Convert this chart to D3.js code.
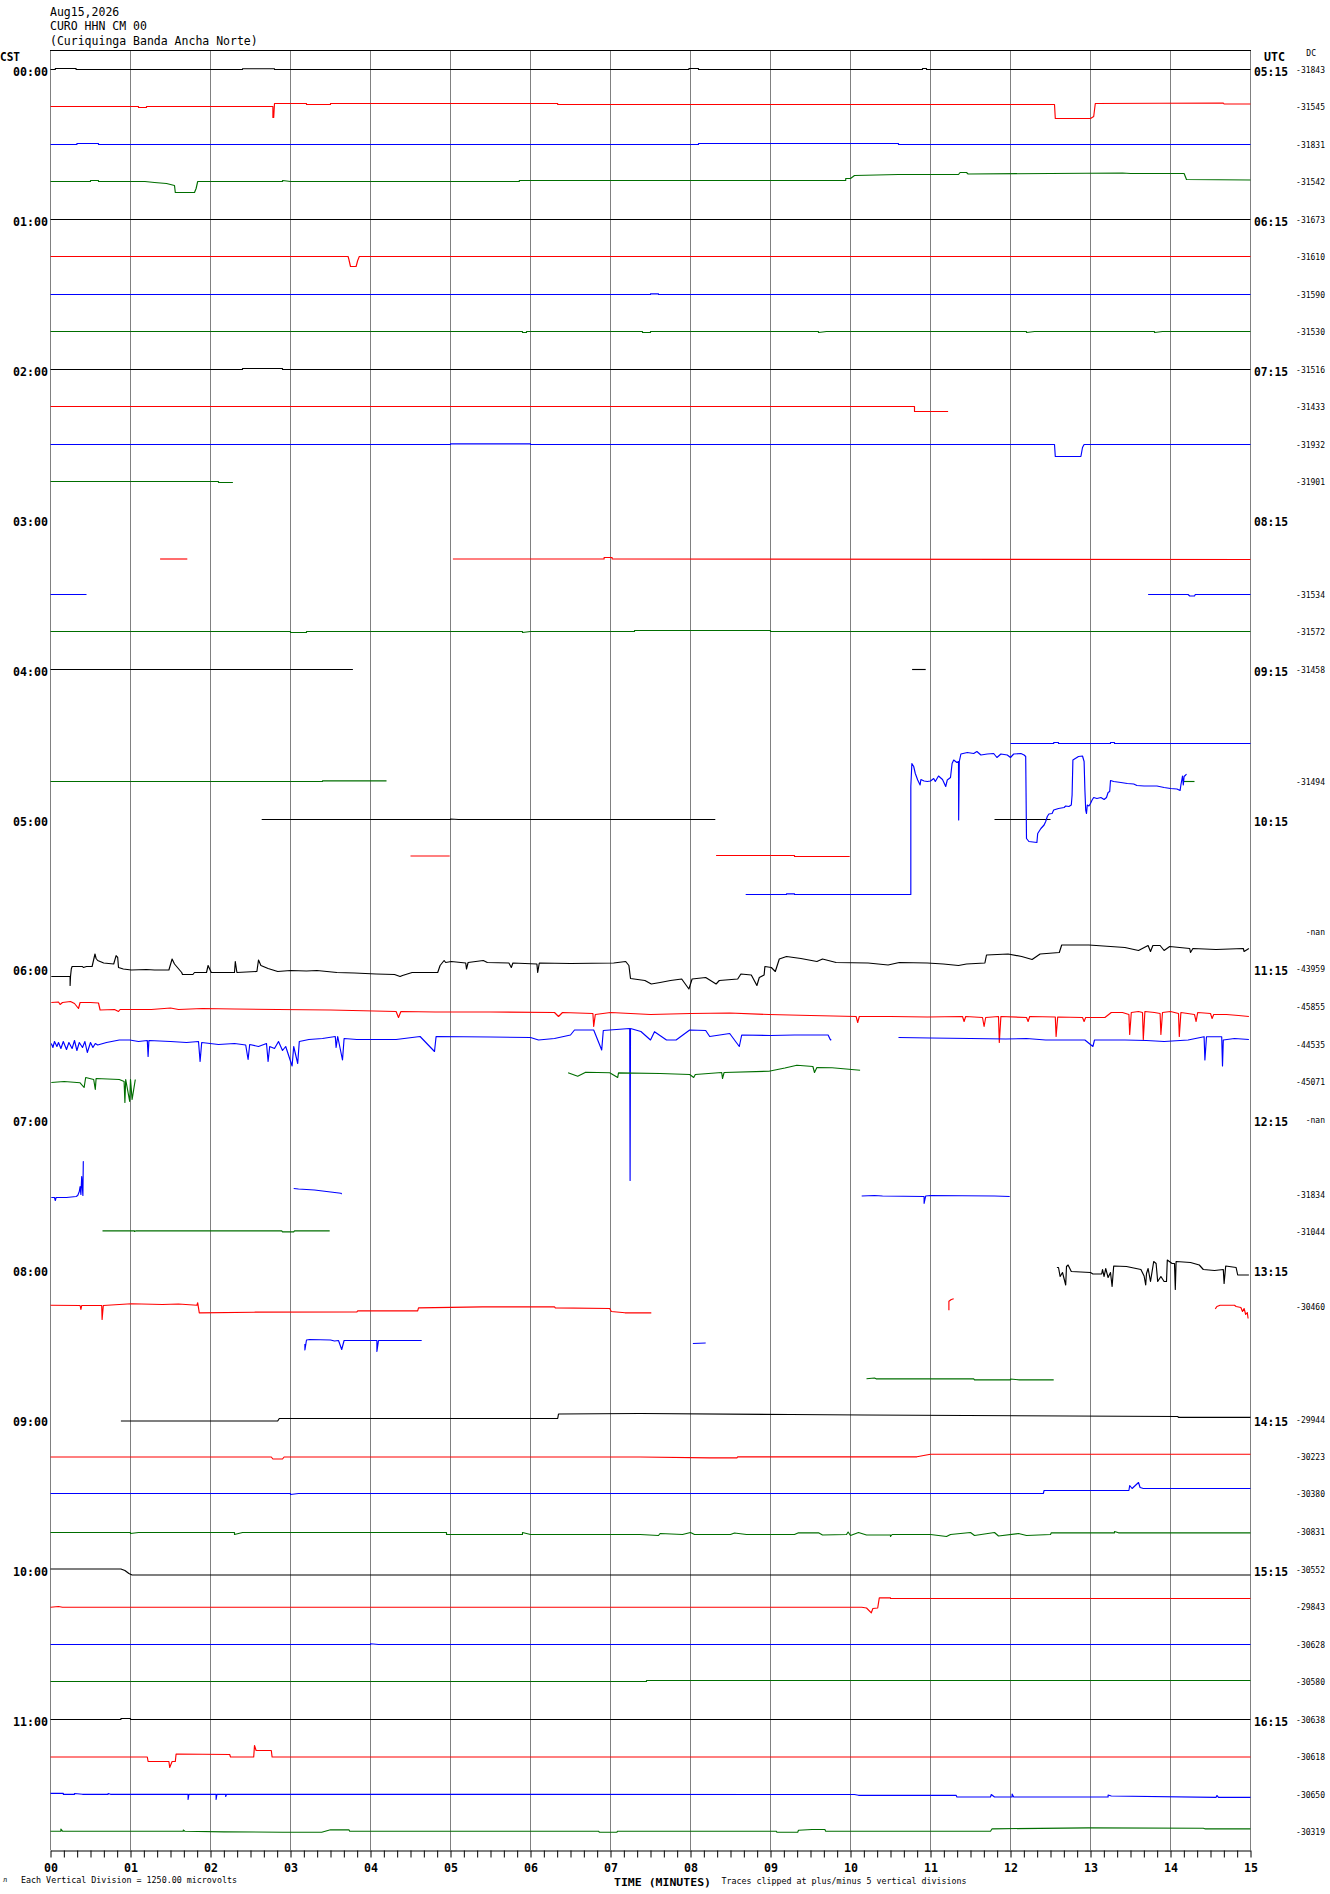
<!DOCTYPE html>
<html><head><meta charset="utf-8">
<script src="https://cdn.jsdelivr.net/npm/d3@7"></script>
<style>
body{margin:0;background:#fff}
svg{display:block}
text{font-family:"DejaVu Sans Mono","Liberation Mono",monospace;fill:#000}
</style>
</head><body>
<svg id="chart" width="1330" height="1894"></svg>
<script>
// ---------------- DATA ----------------
const titleLines = ["Aug15,2026", "CURO HHN CM 00", "(Curiquinga Banda Ancha Norte)"];
const hourLabelsCST = ["00:00","01:00","02:00","03:00","04:00","05:00","06:00","07:00","08:00","09:00","10:00","11:00"];
const hourLabelsUTC = ["05:15","06:15","07:15","08:15","09:15","10:15","11:15","12:15","13:15","14:15","15:15","16:15"];
const dcLabels = ["-31843","-31545","-31831","-31542","-31673","-31610","-31590","-31530",
  "-31516","-31433","-31932","-31901","","","-31534","-31572",
  "-31458","","","-31494","","","","-nan",
  "-43959","-45855","-44535","-45071","-nan","","-31834","-31044",
  "","-30460","","","-29944","-30223","-30380","-30831",
  "-30552","-29843","-30628","-30580","-30638","-30618","-30650","-30319"];
const minuteLabels = ["00","01","02","03","04","05","06","07","08","09","10","11","12","13","14","15"];
const traceColors = ["#000000", "#ff0000", "#0000ff", "#006e00"];

// Each trace: list of segments "minute:amplitude ..." (amplitude in display units, + = up)
const hour00 = [
  ["0:0 0.06:0 0.06:1 0.32:1 0.32:0 2.4:0 2.4:0.8 2.8:0.8 2.8:0 7.98:0 7.98:1 8.1:1 8.1:0 10.9:0 10.9:1 10.95:1 10.95:0 15:0"],
  ["0:0 1.1:0 1.1:-1 1.2:-1 1.2:0 2.78:0 2.78:-11 2.79:-11 2.8:3 3.2:3 3.2:2 3.5:2 3.5:3 6.34:3 6.34:2 12.55:2 12.56:-12 13.0:-12 13.04:-10 13.06:3 14.66:3.5 14.67:2.5 15:2.5"],
  ["0:0 0.33:0 0.33:1 0.6:1 0.6:0 8.1:0 8.1:1 10.6:1 10.6:0 15:0"],
  ["0:0 0.5:0 0.5:1 0.6:1 0.6:0 1.18:0 1.3:-1 1.45:-2 1.55:-4 1.56:-11 1.8:-11 1.82:-7 1.84:0 2.9:0 2.9:1 3.0:0 5.86:0 5.86:1 9.94:1 9.94:3 10.0:3 10.05:6 10.6:7 11.35:7 11.37:9 11.45:9 11.47:7.5 12.5:8 13.4:8.5 13.5:8 14.17:8 14.2:2 15:1.5"]
];
const hour01 = [
  ["0:0 15:0"],
  ["0:0 3.72:0 3.73:-3 3.75:-10 3.82:-10 3.84:-4 3.86:0 15:0"],
  ["0:0 7.5:0 7.5:0.7 7.6:0.7 7.6:0 15:0"],
  ["0:0 5.9:0 5.9:-1 5.95:-1 5.95:0 7.4:0 7.4:-1 7.5:-1 7.5:0 9.6:0 9.6:-1 9.7:0 12.2:0 12.2:-1 12.3:0 13.8:0 13.8:-1 13.9:0 15:0"]
];
const hour02 = [
  ["0:0 2.4:0 2.4:1 2.9:1 2.9:0 15:0"],
  ["0:0 10.8:0 10.8:-5 11.22:-5"],
  ["0:0 5.0:0 5.0:0.7 6.0:0.7 6.0:0 12.55:0 12.56:-12 12.88:-12 12.9:-3 12.92:0 15:0"],
  ["0:0 2.1:0 2.1:-1 2.28:-1"]
];
const hour03 = [
  [],
  ["1.37:-2.5 1.71:-2.5", "5.03:-2.5 6.92:-2.5 6.92:-1 7.02:-1 7.02:-2.5 15:-3"],
  ["0:0 0.45:0", "13.72:0 14.22:0 14.24:-1.5 14.3:-1.5 14.31:0 15:0"],
  ["0:0 3.0:0 3.0:-1 3.2:-1 3.2:0 5.9:0 5.9:-1 6.0:0 7.3:0 7.3:1 9.0:1 9.0:0 15:0"]
];
const hour04 = [
  ["0:0 3.78:0", "10.77:0 10.94:0"],
  [],
  ["12.0:1 12.54:1 12.54:2 12.6:2 12.6:1 13.25:1 13.25:2 13.3:2 13.3:1 15:1"],
  ["0:0 3.4:0 3.4:0.7 4.2:0.7", "14.16:0 14.3:0"]
];
const hour05 = [
  ["2.64:0 5.0:0 5.0:0.5 5.1:0 8.31:0", "11.8:0 12.5:0"],
  ["4.5:0.5 4.99:0.5", "8.32:1 9.3:1 9.3:0 9.99:0"],
  ["8.69:0 9.2:0 9.2:0.7 9.3:0.7 9.3:0 10.754:0 10.754:108 10.767:131 10.79:128 10.81:121 10.84:114.5 10.87:109.5 10.88:115 10.92:113.5 10.96:113 11.0:113.5 11.04:116 11.06:113 11.1:118.5 11.15:115 11.19:108 11.21:114.5 11.25:117 11.27:131 11.29:134.5 11.33:132 11.35:133 11.352:74.5 11.36:133 11.38:140.5 11.46:142 11.54:141 11.58:143 11.63:139.5 11.71:140.5 11.79:141 11.83:137 11.88:140.5 11.96:139.5 12.0:137 12.04:140.5 12.13:141 12.17:139.5 12.19:138 12.2:56 12.23:53 12.33:52 12.34:61 12.38:66 12.42:69.5 12.44:73 12.46:78 12.48:80.5 12.52:81 12.54:84.5 12.6:86 12.67:87 12.69:88.5 12.73:88 12.76:89.5 12.77:99.5 12.78:134.5 12.81:136 12.85:138 12.9:138.5 12.92:133 12.93:104.5 12.94:84.5 12.95:81 12.96:89.5 12.98:88.5 13.0:91 13.02:94.5 13.04:97 13.08:96 13.13:97 13.17:95 13.2:97 13.22:102 13.24:103 13.25:114 13.29:113 13.38:112 13.46:111 13.54:110.5 13.58:109 13.67:108.5 13.83:108.5 13.92:107 14.0:106 14.08:105.5 14.12:104 14.13:109.5 14.15:118.5 14.16:109.5 14.17:118 14.19:119.5 14.2:120.5"],
  []
];
const hour06 = [
  ["0.01:-8 0.245:-8 0.245:-17 0.25:-8 0.26:-0.5 0.27:2 0.4:2 0.41:1 0.45:2 0.52:2 0.556:14.5 0.57:10 0.59:8 0.665:5.5 0.79:4.5 0.82:12.8 0.84:11 0.85:1 0.91:-0.5 1.01:-1.5 1.2:-1 1.3:-1.5 1.48:-1.5 1.52:9.5 1.55:4.5 1.64:-4 1.65:-6 1.78:-6 1.8:-4 1.95:-4 1.97:3 2.01:-4 2.3:-4 2.31:7 2.33:-4 2.58:-3 2.6:8.5 2.63:3 2.72:0 2.84:-3 3.0:-2 3.2:-2.5 3.33:-2 3.58:-4 3.8:-4.5 4.07:-5.5 4.3:-6 4.37:-8 4.4:-7 4.52:-4 4.84:-4 4.87:3 4.92:8 4.94:6 5.01:7 5.19:5.5 5.2:-0.5 5.22:6 5.41:8 5.46:6 5.73:5.5 5.76:1 5.78:5.5 6.08:4.5 6.09:-4 6.11:5.5 6.5:5 7.04:5.5 7.19:7 7.23:3 7.25:-10 7.43:-12 7.51:-15.5 7.62:-14 7.75:-12 7.89:-10.5 7.98:-20.5 8.02:-10.5 8.19:-9 8.32:-15.5 8.36:-12 8.59:-10.5 8.63:-5.5 8.76:-6.5 8.83:-17 8.86:-9 8.92:-6.5 8.93:2 9.01:1 9.06:-3 9.11:9.5 9.2:12 9.38:10 9.58:7 9.65:9.5 9.82:6 10.22:5.5 10.47:3.5 10.61:6 10.96:5.5 11.16:4.5 11.35:3 11.45:4.5 11.68:5.5 11.7:13.5 11.97:14.5 12.14:12 12.27:9 12.37:14.5 12.61:16 12.64:23.5 12.98:23.5 13.43:21 13.6:18 13.72:23 13.75:17 13.78:23 13.87:23 13.92:18 13.99:22 14.24:20 14.25:16 14.28:20 14.57:19 14.91:20 14.92:17 14.98:20"],
  ["0.01:4 0.1:4.5 0.12:2 0.15:4 0.25:5 0.3:3 0.35:-2 0.37:4 0.5:4 0.6:3.5 0.62:-3.5 0.8:-3 0.85:-5 0.87:-3 1.26:-3 1.5:-1.5 1.6:-3 1.9:-2 2.3:-2.5 2.84:-3 3.5:-3.5 4.32:-5 4.35:-11 4.38:-5 4.81:-5.5 5.5:-5.5 6.3:-6 6.35:-10 6.4:-6 6.78:-7 6.79:-20 6.81:-8 7.0:-6 7.5:-8 8.0:-7 8.49:-6.5 8.98:-8 9.5:-9 10.07:-10 10.09:-16 10.11:-10 10.5:-10 10.96:-10.5 11.4:-10 11.42:-15 11.44:-10 11.65:-11 11.67:-20 11.69:-11 11.85:-10 11.86:-36 11.88:-10 12.2:-11 12.22:-15 12.24:-10 12.56:-10.5 12.57:-30 12.59:-10.5 12.9:-11 12.92:-15 12.94:-11 13.18:-11 13.26:-6 13.4:-6 13.48:-8 13.49:-28 13.51:-6 13.6:-5 13.65:-6 13.66:-33 13.68:-5 13.8:-6 13.87:-7 13.88:-28 13.9:-6 14.0:-5 14.1:-7 14.11:-30 14.13:-6 14.3:-8 14.32:-15 14.34:-6 14.5:-7 14.52:-12 14.54:-8 14.7:-8 14.85:-9 14.98:-10"],
  ["0.01:1 0.03:-3 0.05:3 0.08:-2 0.1:2 0.13:-4 0.16:3 0.2:-5 0.23:2 0.27:-4 0.3:4 0.33:-6 0.36:2 0.4:-3 0.43:3 0.46:-8 0.5:2 0.53:-3 0.56:1 0.59:-0.5 0.7:2 0.86:4.5 0.99:4.5 1.1:3 1.21:4 1.22:-12 1.23:4 1.5:3 1.7:2 1.85:3 1.87:-17 1.89:2 2.1:0 2.3:1 2.44:-0.5 2.47:-15 2.49:0 2.6:-2 2.7:1 2.72:-17 2.74:-2 2.8:-4 2.85:3 2.9:-6 2.94:-2 3.02:-21.5 3.04:-2 3.09:-19 3.11:3 3.23:5 3.4:6 3.56:8 3.57:-3 3.59:8 3.65:-15.5 3.67:6 3.83:5 4.32:5 4.62:8 4.8:-7 4.82:8 5.5:7.5 6.0:7 6.1:4.5 6.3:6 6.5:9.5 6.55:14.5 6.79:14.5 6.89:-5.5 6.91:14 6.99:14.5 7.24:16 7.245:-136 7.25:16 7.38:13 7.5:4.5 7.55:12.8 7.7:4.5 7.82:4.5 7.99:14.5 8.19:14 8.24:8 8.49:11 8.61:-2 8.64:9.5 9.0:9 9.3:9.5 9.72:9.5 9.75:4.5 9.76:5", "10.6:7 11.0:6.5 11.5:6 11.94:5.5 12.2:6 12.44:4.5 12.93:4.5 13.03:-2 13.05:4.5 13.43:4.5 13.7:4 13.92:3 14.22:4.5 14.42:7.8 14.43:-15.5 14.45:7.8 14.64:7.8 14.65:-21.5 14.66:4.5 14.8:6 14.98:5"],
  ["0.01:-1 0.17:0 0.37:-1.3 0.42:-6 0.44:4 0.54:2 0.56:-8 0.57:3 0.86:2 0.92:0 0.93:-21 0.94:2 0.99:-20 1.0:2 1.02:-18 1.06:2", "6.47:8.7 6.59:5.3 6.69:9.3 6.99:8.7 7.09:4 7.1:8.7 7.62:8 7.99:7 8.04:4 8.06:7 8.39:9 8.4:3 8.42:9 8.98:10.3 9.18:13.5 9.33:16.3 9.53:15 9.55:9 9.58:14 9.77:13.7 10.12:11.3"]
];
const hour07 = [
  [],
  [],
  ["0.01:-3 0.05:-3 0.06:-6 0.07:-3 0.2:-3 0.32:-2 0.34:-1 0.36:3 0.37:8 0.38:0 0.39:18 0.4:5 0.405:-1 0.41:33 0.415:33", "3.04:6 3.1:5.5 3.3:4.5 3.4:3.5 3.63:1.2 3.64:0.5", "10.14:-1.5 10.3:-1 10.4:-1.5 10.92:-2 10.92:-8.8 10.94:-1.5 11.0:-1 11.8:-1.5 11.99:-2"],
  ["0.65:0.7 1.05:0.7 1.05:0 1.07:0.7 2.89:0.7 2.9:-0.3 3.04:-0.3 3.05:0.7 3.49:0.7"]
];
const hour08 = [
  ["12.58:2 12.6:2 12.62:-7 12.65:-3 12.69:-15.5 12.7:3 12.72:4.5 12.76:-2 13.0:-3 13.03:-4.5 13.14:-4.5 13.15:0 13.17:-7 13.19:1 13.22:-8 13.25:-3 13.27:-17 13.29:3.5 13.45:3 13.63:0 13.67:-6.5 13.69:-15.5 13.7:-4 13.72:1 13.75:-12 13.79:8 13.82:6 13.84:-12 13.88:-7 13.92:-12 13.95:-12 13.96:9.5 14.02:6 14.05:6 14.06:-20 14.07:8 14.25:7 14.36:4.5 14.41:0 14.55:-1 14.66:0 14.67:-14 14.69:3.5 14.82:2 14.84:-5.5 14.98:-5.5"],
  ["0:1.3 0.37:1 0.38:-3 0.39:1 0.64:1 0.645:-13 0.66:1 1.01:2.7 1.4:2 1.6:2.5 1.83:1.3 1.84:3.7 1.86:-6.3 2.54:-5.7 3.83:-5.3 3.84:-4.3 4.59:-4.3 4.6:-1.3 5.4:-0.3 6.3:-0.3 6.31:-1.3 6.99:-2 7.01:-5 7.18:-6.3 7.51:-6.3", "11.23:-3.7 11.23:5.3 11.26:7 11.29:7.7", "14.56:-2.3 14.58:0 14.62:1.3 14.8:1.3 14.82:0 14.88:-1 14.9:-5 14.92:-2 14.94:-8 14.96:-6 14.97:-12"],
  ["3.18:0.5 3.18:-5.5 3.2:4.5 3.24:5 3.5:4.5 3.55:3.5 3.6:4 3.64:-5 3.66:1 3.67:4 4.08:4 4.08:-7 4.1:4 4.64:4", "8.03:1 8.19:1.5"],
  ["10.2:2.7 10.3:3.5 10.32:2.7 11.54:2.7 11.55:1.7 12.0:1.7 12.0:2.5 12.1:1.7 12.54:1.7"]
];
const hour09 = [
  ["0.88:-1.5 2.84:-1.5 2.86:1 6.34:1 6.35:5.5 7.37:6 9.25:5 10.17:4.5 14.09:3 14.1:2.2 15:2.2"],
  ["0:-0.5 2.76:-0.5 2.78:-2.5 2.9:-2.5 2.92:-0.5 7.37:-0.5 8.24:-1.3 8.58:-1.3 8.59:-0.3 10.83:-0.3 11.0:2.3 15:2.3"],
  ["0:0 3.0:0 3.0:-1 3.1:0 12.41:0 12.42:3 13.48:3 13.49:8 13.52:5 13.6:11 13.62:6 13.66:5 15:5"],
  ["0:-1 1.0:-1 1.0:-2 1.1:-1 2.3:-1 2.3:-3 2.4:-1 4.95:-1 4.95:-3 5.9:-3 5.9:-1 6.0:-3 7.37:-3 7.6:-4 7.62:-2 7.9:-3 8.0:-1 8.05:-3 8.5:-3 8.55:-1.5 8.7:-3 9.3:-3 9.35:-1.3 9.6:-1.3 9.65:-3.5 9.95:-3 9.97:-0.5 10.0:-4 10.1:-1 10.2:-3.5 10.5:-3.5 10.5:-5 10.52:-3 11.0:-3 11.2:-5 11.25:-3 11.5:-1 11.55:-4 11.8:-1 11.85:-4.5 12.1:-2 12.2:-4 12.5:-3 12.51:-1.3 13.3:-1.3 13.3:0 13.35:-1.3 15:-1.3"]
];
const hour10 = [
  ["0:0.5 0.88:0.5 0.93:-1 0.98:-4 1.02:-5.5 15:-5.5"],
  ["0:-0.7 0.1:0 0.15:-0.7 10.14:-0.7 10.2:-1.5 10.26:-6.3 10.28:-2 10.34:-1.5 10.36:8.7 10.5:8.7 10.5:8 15:8"],
  ["0:0 4.0:0 4.0:0.7 4.1:0 15:0"],
  ["0:0 7.45:0 7.45:1 15:1"]
];
const hour11 = [
  ["0:0 0.88:0 0.88:1 1.0:1 1.0:0 15:0"],
  ["0:-0.5 1.21:-0.5 1.22:-5 1.48:-5 1.49:-11 1.52:-5 1.56:-5 1.57:2.5 2.24:2 2.25:-0.5 2.54:-0.5 2.55:11 2.57:6 2.76:6 2.77:-0.5 15:-0.5"],
  ["0:1.2 0.16:1.2 0.16:0.2 0.3:0.2 0.3:1 0.4:0.2 0.72:0.2 0.72:1 0.75:0.2 1.72:0.2 1.72:-5 1.73:0.2 2.07:0.2 2.07:-5 2.08:0.2 2.19:0.2 2.19:-2 2.2:0.2 10.05:0 10.1:-0.8 11.32:-0.8 11.33:-2.5 11.75:-2.5 11.76:0 11.8:-2.5 12.02:-2.5 12.02:0.5 12.04:-2.5 13.22:-2.5 13.22:-0.5 13.26:-1.5 14.57:-2.8 14.58:-1 14.6:-2.8 15:-2.8"],
  ["0:0.3 0.13:0.3 0.13:2.5 0.15:0.3 1.66:0.3 1.66:1.5 1.68:0.3 2.17:-0.3 2.9:-0.7 3.39:-0.7 3.5:1.7 3.73:1.7 3.74:0.3 6.85:0.3 6.86:-0.7 7.08:-0.7 7.09:0.3 9.07:0.3 9.08:-0.7 9.34:-0.7 9.35:1.3 9.52:2 9.68:2 9.69:0.3 11.75:0.3 11.77:2.7 12.97:3.7 14.41:3.3 14.43:2.7 15:2.7"]
];

// ---------------- RENDER ----------------
const svg = d3.select("#chart");
const plotLeft = 50, plotRight = 1250, plotTop = 50, axisY = 1850;
const x = d3.scaleLinear().domain([0, 15]).range([plotLeft + 0.5, plotRight + 0.5]);
const rowY = d3.scaleLinear().domain([0, 47]).range([69.5, 1832]);
const amp = d3.scaleLinear().domain([0, 1]).range([0, -1]);
const baseOf = i => Math.floor(rowY(i) - 0.5) + 0.5;

const hours = [hour00,hour01,hour02,hour03,hour04,hour05,hour06,hour07,hour08,hour09,hour10,hour11];
const traces = hours.flat();
const parseSeg = s => s.trim().split(/\s+/).map(p => p.split(":").map(Number));

// title
svg.append("g").selectAll("text").data(titleLines).join("text")
  .attr("x", 50).attr("y", (d, i) => 16 + i * 14.3)
  .attr("font-size", 11.5).text(d => d);

// grid
const grid = svg.append("g");
grid.selectAll("line").data(d3.range(0, 16)).join("line")
  .attr("x1", d => x(d)).attr("x2", d => x(d))
  .attr("y1", plotTop).attr("y2", axisY)
  .attr("stroke", "#808080").attr("stroke-width", 1);
svg.append("line").attr("x1", plotLeft).attr("x2", plotRight + 1)
  .attr("y1", plotTop + 0.5).attr("y2", plotTop + 0.5)
  .attr("stroke", "#000").attr("stroke-width", 1);

// traces
const tg = svg.append("g").attr("fill", "none").attr("stroke-width", 1.15).attr("stroke-linejoin", "round");
traces.forEach((segs, i) => {
  const base = baseOf(i);
  const gen = d3.line().x(d => x(d[0])).y(d => base + amp(d[1]));
  segs.forEach(s => {
    tg.append("path").attr("d", gen(parseSeg(s)))
      .attr("stroke", traceColors[i % 4]);
  });
});

// left/right hour labels
const lab = svg.append("g").attr("font-weight", "bold").attr("font-size", 12.5);
lab.selectAll("text.cst").data(hourLabelsCST).join("text").attr("class", "cst")
  .attr("x", 13).attr("y", (d, h) => baseOf(h * 4) + 6)
  .attr("textLength", 35).attr("lengthAdjust", "spacingAndGlyphs").text(d => d);
lab.selectAll("text.utc").data(hourLabelsUTC).join("text").attr("class", "utc")
  .attr("x", 1254).attr("y", (d, h) => baseOf(h * 4) + 6.5)
  .attr("textLength", 34).attr("lengthAdjust", "spacingAndGlyphs").text(d => d);
lab.append("text").attr("x", 0).attr("y", 61).attr("textLength", 20)
  .attr("lengthAdjust", "spacingAndGlyphs").text("CST");
lab.append("text").attr("x", 1264).attr("y", 61).attr("textLength", 21)
  .attr("lengthAdjust", "spacingAndGlyphs").text("UTC");

// DC labels
const dcg = svg.append("g").attr("font-size", 8).attr("text-anchor", "end");
dcg.append("text").attr("x", 1316).attr("y", 56).text("DC");
dcg.selectAll("text.dc").data(dcLabels).join("text").attr("class", "dc")
  .attr("x", 1325).attr("y", (d, i) => baseOf(i) + 3.5).text(d => d);

// bottom axis
const axis = d3.axisBottom(x)
  .tickValues(d3.range(0, 91).map(k => k / 6))
  .tickSize(7).tickSizeOuter(0)
  .tickFormat((d, i) => (i % 6 === 0 ? minuteLabels[i / 6] : ""));
const ag = svg.append("g").attr("transform", `translate(0,${axisY + 0.5})`).call(axis);
ag.select(".domain").attr("stroke", "#000").attr("stroke-width", 1);
ag.selectAll(".tick line").attr("stroke", "#000").attr("stroke-width", 1);
ag.selectAll(".tick text")
  .attr("y", 21.5).attr("dy", 0)
  .attr("font-family", "DejaVu Sans Mono, monospace")
  .attr("font-size", 12).attr("font-weight", "bold").attr("fill", "#000")
  .each(function(d, i) { if (i % 6 === 0) d3.select(this).attr("textLength", 14).attr("lengthAdjust", "spacingAndGlyphs"); });

// footer texts
svg.append("text").attr("x", 3).attr("y", 1882).attr("font-size", 7).text("л");
svg.append("text").attr("x", 21).attr("y", 1883).attr("font-size", 8.5)
  .attr("textLength", 216).attr("lengthAdjust", "spacingAndGlyphs")
  .text("Each Vertical Division = 1250.00 microvolts");
svg.append("text").attr("x", 614).attr("y", 1886).attr("font-size", 11).attr("font-weight", "bold")
  .attr("textLength", 97).attr("lengthAdjust", "spacingAndGlyphs")
  .text("TIME (MINUTES)");
svg.append("text").attr("x", 721.5).attr("y", 1884).attr("font-size", 8.5)
  .attr("textLength", 245).attr("lengthAdjust", "spacingAndGlyphs")
  .text("Traces clipped at plus/minus 5 vertical divisions");
</script>
</body></html>
